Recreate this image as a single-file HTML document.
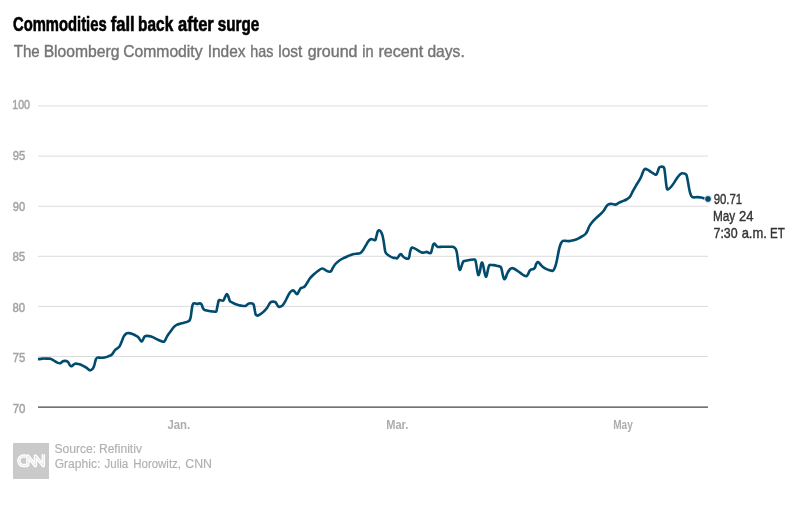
<!DOCTYPE html>
<html lang="en">
<head>
<meta charset="utf-8">
<title>Commodities fall back after surge</title>
<style>
html,body{margin:0;padding:0;background:#fff;}
body{width:808px;height:524px;overflow:hidden;font-family:"Liberation Sans",sans-serif;}
svg{display:block;will-change:transform;}
svg text{font-family:"Liberation Sans",sans-serif;}
</style>
</head>
<body>
<svg width="808" height="524" viewBox="0 0 808 524">
<rect width="808" height="524" fill="#ffffff"/>
<g>
<text y="30.7" font-size="19.5" fill="#000000" font-weight="bold" stroke="#000000" stroke-width="0.6"><tspan x="13.05" textLength="93.57" lengthAdjust="spacingAndGlyphs">Commodities</tspan> <tspan x="110.70" textLength="23.90" lengthAdjust="spacingAndGlyphs">fall</tspan> <tspan x="138.12" textLength="35.09" lengthAdjust="spacingAndGlyphs">back</tspan> <tspan x="177.97" textLength="35.79" lengthAdjust="spacingAndGlyphs">after</tspan> <tspan x="217.66" textLength="41.56" lengthAdjust="spacingAndGlyphs">surge</tspan></text>
<text y="56.65" font-size="16.1" fill="#757575" stroke="#757575" stroke-width="0.4"><tspan x="13.73" textLength="25.99" lengthAdjust="spacingAndGlyphs">The</tspan> <tspan x="43.64" textLength="75.84" lengthAdjust="spacingAndGlyphs">Bloomberg</tspan> <tspan x="123.28" textLength="79.25" lengthAdjust="spacingAndGlyphs">Commodity</tspan> <tspan x="207.69" textLength="37.94" lengthAdjust="spacingAndGlyphs">Index</tspan> <tspan x="250.29" textLength="23.10" lengthAdjust="spacingAndGlyphs">has</tspan> <tspan x="278.22" textLength="23.97" lengthAdjust="spacingAndGlyphs">lost</tspan> <tspan x="307.68" textLength="49.73" lengthAdjust="spacingAndGlyphs">ground</tspan> <tspan x="362.17" textLength="11.28" lengthAdjust="spacingAndGlyphs">in</tspan> <tspan x="378.40" textLength="44.74" lengthAdjust="spacingAndGlyphs">recent</tspan> <tspan x="427.45" textLength="37.32" lengthAdjust="spacingAndGlyphs">days.</tspan></text>
</g>
<g stroke="#dcdcdc" stroke-width="1" fill="none">
<line x1="38" y1="105.95" x2="708" y2="105.95"/>
<line x1="38" y1="156.1" x2="708" y2="156.1"/>
<line x1="38" y1="206.3" x2="708" y2="206.3"/>
<line x1="38" y1="256.3" x2="708" y2="256.3"/>
<line x1="38" y1="306.4" x2="708" y2="306.4"/>
<line x1="38" y1="356.5" x2="708" y2="356.5"/>
</g>
<line x1="38" y1="407.1" x2="708" y2="407.1" stroke="#444444" stroke-width="1.3"/>
<g>
<text y="109.0" font-size="12.2" fill="#a3a3a3" stroke="#a3a3a3" stroke-width="0.45"><tspan x="12.19" textLength="17.83" lengthAdjust="spacingAndGlyphs">100</tspan></text>
<text y="159.8" font-size="12.2" fill="#a3a3a3" stroke="#a3a3a3" stroke-width="0.45"><tspan x="12.71" textLength="12.54" lengthAdjust="spacingAndGlyphs">95</tspan></text>
<text y="210.9" font-size="12.2" fill="#a3a3a3" stroke="#a3a3a3" stroke-width="0.45"><tspan x="12.71" textLength="12.40" lengthAdjust="spacingAndGlyphs">90</tspan></text>
<text y="260.8" font-size="12.2" fill="#a3a3a3" stroke="#a3a3a3" stroke-width="0.45"><tspan x="12.44" textLength="12.86" lengthAdjust="spacingAndGlyphs">85</tspan></text>
<text y="311.7" font-size="12.2" fill="#a3a3a3" stroke="#a3a3a3" stroke-width="0.45"><tspan x="12.46" textLength="12.69" lengthAdjust="spacingAndGlyphs">80</tspan></text>
<text y="362.0" font-size="12.2" fill="#a3a3a3" stroke="#a3a3a3" stroke-width="0.45"><tspan x="12.69" textLength="12.53" lengthAdjust="spacingAndGlyphs">75</tspan></text>
<text y="412.9" font-size="12.2" fill="#a3a3a3" stroke="#a3a3a3" stroke-width="0.45"><tspan x="12.68" textLength="12.81" lengthAdjust="spacingAndGlyphs">70</tspan></text>
</g><g>
<text y="428.7" font-size="12.2" fill="#adadad" font-weight="bold"><tspan x="167.48" textLength="22.73" lengthAdjust="spacingAndGlyphs">Jan.</tspan></text>
<text y="428.7" font-size="12.2" fill="#adadad" font-weight="bold"><tspan x="386.29" textLength="21.95" lengthAdjust="spacingAndGlyphs">Mar.</tspan></text>
<text y="428.7" font-size="12.2" fill="#adadad" font-weight="bold"><tspan x="613.23" textLength="19.63" lengthAdjust="spacingAndGlyphs">May</tspan></text>
</g>
<path d="M38.0 359.3C38.7 359.2 40.8 358.7 42.4 358.6C44.0 358.5 46.0 358.6 47.4 358.6C48.8 358.6 49.5 358.5 50.5 358.8C51.5 359.1 52.5 359.8 53.6 360.4C54.7 361.0 56.2 362.1 57.3 362.6C58.4 363.1 59.3 363.4 60.2 363.2C61.1 363.0 62.0 361.7 62.9 361.3C63.8 360.9 64.6 360.8 65.4 360.9C66.2 361.0 67.2 361.2 67.9 361.9C68.6 362.6 69.2 364.2 69.7 364.9C70.2 365.6 70.7 366.2 71.2 366.3C71.7 366.4 72.2 365.7 72.8 365.3C73.4 364.9 74.1 363.9 75.0 363.7C75.9 363.5 77.2 363.7 78.4 364.0C79.6 364.3 80.8 364.7 82.1 365.3C83.3 365.9 84.8 366.6 85.9 367.4C87.1 368.2 88.2 369.4 89.0 369.9C89.8 370.4 90.0 370.4 90.6 370.2C91.2 370.0 92.1 369.6 92.7 368.8C93.3 368.0 93.8 366.9 94.3 365.3C94.8 363.8 95.3 360.8 95.8 359.5C96.3 358.2 96.5 357.9 97.3 357.6C98.1 357.3 99.6 357.8 100.8 357.8C102.0 357.8 103.3 357.7 104.5 357.5C105.7 357.3 107.0 356.9 108.2 356.4C109.4 355.9 110.8 355.6 111.9 354.5C113.0 353.4 114.1 351.1 115.0 350.1C115.9 349.1 116.7 349.0 117.5 348.3C118.3 347.6 119.0 347.3 119.7 346.1C120.4 344.9 121.2 342.7 121.9 341.1C122.6 339.5 123.0 337.8 123.7 336.5C124.4 335.2 125.4 334.2 126.2 333.6C127.0 333.0 127.7 333.0 128.7 333.1C129.7 333.2 131.2 333.5 132.4 334.0C133.7 334.5 135.2 335.3 136.2 335.9C137.2 336.5 137.9 336.9 138.6 337.7C139.3 338.5 140.0 339.9 140.5 340.5C141.0 341.1 141.3 341.6 141.7 341.5C142.1 341.4 142.5 340.4 143.0 339.6C143.5 338.8 143.9 337.1 144.6 336.5C145.3 335.9 146.2 335.9 147.3 335.9C148.4 335.9 149.8 336.1 151.1 336.5C152.3 336.9 153.6 337.5 154.8 338.1C156.0 338.7 157.3 339.4 158.5 340.0C159.7 340.6 161.3 341.2 162.2 341.5C163.1 341.8 163.6 341.9 164.1 341.7C164.6 341.4 164.8 340.9 165.3 340.0C165.8 339.1 166.3 337.6 167.2 336.1C168.1 334.6 169.8 332.4 170.9 330.9C172.0 329.4 173.0 327.9 174.0 326.9C175.0 325.9 176.0 325.3 177.1 324.7C178.2 324.1 179.6 323.9 180.8 323.5C182.1 323.1 183.4 322.9 184.6 322.6C185.8 322.3 186.8 322.0 187.7 321.6C188.6 321.2 189.3 320.8 189.8 320.0C190.3 319.2 190.5 318.3 190.8 316.6C191.1 314.9 191.4 311.8 191.7 309.8C192.0 307.9 192.2 306.0 192.6 304.9C193.0 303.8 193.2 303.4 193.9 303.2C194.6 303.0 196.0 303.9 197.0 303.9C198.0 303.9 199.3 303.3 200.1 303.4C200.9 303.5 201.2 303.8 201.7 304.6C202.2 305.4 202.4 307.1 202.9 308.0C203.4 308.9 203.5 309.3 204.4 309.8C205.3 310.3 206.9 310.5 208.1 310.8C209.3 311.1 210.6 311.2 211.8 311.4C213.1 311.5 214.8 311.8 215.6 311.7C216.4 311.6 216.2 312.0 216.5 311.0C216.8 310.0 217.1 307.6 217.5 305.9C217.9 304.2 218.2 301.7 218.7 300.7C219.1 299.7 219.5 300.1 220.2 300.1C220.9 300.1 222.3 301.0 223.1 300.6C223.8 300.2 224.2 298.9 224.7 297.9C225.2 296.9 225.8 295.4 226.2 294.8C226.6 294.2 226.8 294.0 227.2 294.3C227.6 294.6 227.9 295.5 228.4 296.6C228.9 297.7 229.2 300.0 229.9 301.0C230.6 302.0 231.3 302.0 232.4 302.6C233.5 303.2 235.2 304.0 236.7 304.5C238.1 305.0 239.6 305.4 241.1 305.6C242.6 305.8 244.4 306.1 245.4 305.9C246.4 305.7 246.7 304.9 247.3 304.5C247.9 304.1 248.3 303.7 249.1 303.5C249.9 303.3 251.4 303.3 252.2 303.5C253.0 303.7 253.3 303.7 253.7 304.7C254.1 305.7 254.4 308.0 254.7 309.7C255.0 311.4 255.3 313.6 255.7 314.6C256.1 315.6 256.5 315.6 257.2 315.6C257.9 315.6 258.7 315.2 259.7 314.6C260.7 314.0 262.2 313.0 263.4 311.9C264.6 310.8 266.1 309.2 267.1 307.8C268.1 306.4 268.9 304.5 269.6 303.5C270.3 302.5 270.6 302.1 271.5 301.8C272.4 301.6 274.4 301.7 275.2 302.0C276.0 302.3 275.9 302.8 276.4 303.5C276.9 304.2 277.5 305.6 278.0 306.2C278.5 306.8 278.7 307.0 279.5 306.9C280.3 306.8 281.7 306.2 282.6 305.3C283.5 304.4 284.2 303.2 285.1 301.6C286.0 300.0 287.3 297.0 288.2 295.4C289.1 293.8 289.9 292.5 290.7 291.7C291.5 290.9 292.2 290.4 292.9 290.4C293.6 290.4 294.1 291.1 294.7 291.7C295.3 292.3 295.8 293.4 296.3 293.8C296.8 294.2 297.1 294.2 297.5 293.9C297.9 293.5 298.2 292.6 298.7 291.7C299.2 290.8 300.0 289.0 300.6 288.3C301.2 287.6 301.8 287.9 302.5 287.6C303.2 287.3 303.9 287.2 304.6 286.5C305.3 285.8 305.9 284.8 306.8 283.4C307.7 282.0 308.8 279.9 310.0 278.3C311.2 276.7 312.9 275.3 314.3 274.0C315.7 272.7 317.4 271.4 318.6 270.5C319.8 269.6 320.9 268.9 321.7 268.6C322.5 268.3 322.8 268.4 323.6 268.8C324.4 269.2 325.7 270.4 326.7 270.9C327.7 271.4 329.0 271.7 329.8 271.7C330.6 271.7 330.8 271.5 331.3 270.9C331.8 270.2 332.2 268.9 332.9 267.8C333.6 266.7 334.4 265.2 335.4 264.0C336.4 262.8 337.8 261.7 339.1 260.7C340.5 259.7 342.1 258.9 343.5 258.2C344.9 257.4 346.4 256.8 347.8 256.2C349.2 255.6 350.8 254.8 352.1 254.4C353.5 254.0 354.8 253.8 355.9 253.7C357.0 253.5 358.1 253.7 359.0 253.5C359.9 253.3 360.4 253.1 361.1 252.5C361.8 251.9 362.5 251.0 363.3 249.8C364.1 248.6 365.0 246.8 365.8 245.4C366.6 244.1 367.3 242.7 368.0 241.7C368.7 240.7 369.4 239.9 370.1 239.5C370.8 239.1 371.3 239.1 372.0 239.2C372.7 239.3 373.6 240.0 374.2 240.1C374.8 240.2 375.1 240.5 375.5 239.9C375.9 239.3 375.9 238.0 376.3 236.7C376.7 235.3 377.2 232.9 377.6 231.8C378.0 230.7 378.3 230.4 378.8 230.3C379.3 230.2 380.1 230.5 380.7 231.4C381.3 232.3 382.0 233.7 382.5 235.5C383.0 237.3 383.4 239.8 383.8 242.3C384.2 244.8 384.6 248.5 385.0 250.4C385.4 252.3 385.6 252.6 386.3 253.5C387.0 254.4 388.3 255.3 389.4 256.0C390.5 256.7 392.2 257.5 393.1 257.8C394.0 258.1 394.4 257.8 395.0 257.9C395.6 258.0 396.3 258.7 396.9 258.5C397.5 258.3 398.0 257.3 398.5 256.6C399.0 255.9 399.5 254.8 400.0 254.4C400.5 254.0 401.0 254.0 401.5 254.4C402.0 254.8 402.4 256.0 403.1 256.6C403.8 257.2 404.6 258.0 405.5 258.3C406.4 258.6 407.8 259.0 408.4 258.7C409.0 258.4 409.0 257.8 409.3 256.6C409.6 255.4 409.8 253.1 410.1 251.7C410.5 250.3 410.9 248.7 411.4 248.0C411.9 247.3 412.3 247.6 413.0 247.7C413.7 247.8 414.6 248.3 415.5 248.8C416.4 249.3 417.6 250.2 418.6 250.8C419.6 251.4 420.8 252.1 421.7 252.4C422.6 252.7 423.4 252.6 424.2 252.5C425.0 252.4 425.8 251.8 426.6 251.9C427.4 252.0 428.4 252.7 429.1 252.9C429.8 253.1 430.4 253.5 430.9 252.9C431.4 252.3 431.6 250.5 432.0 249.2C432.4 247.9 432.7 245.8 433.1 244.9C433.5 244.0 433.8 243.6 434.3 243.6C434.8 243.6 435.3 244.6 435.9 245.2C436.5 245.8 436.8 246.6 437.8 246.9C438.8 247.2 440.6 246.8 442.1 246.8C443.7 246.8 445.4 246.8 447.1 246.8C448.8 246.8 450.9 246.7 452.1 246.8C453.3 246.9 453.7 246.9 454.3 247.4C454.9 247.9 455.6 248.6 456.0 249.6C456.4 250.6 456.7 251.6 457.0 253.5C457.3 255.4 457.7 258.6 458.0 261.0C458.3 263.4 458.6 266.3 459.0 267.8C459.4 269.3 459.7 270.1 460.1 269.9C460.5 269.7 460.9 267.9 461.4 266.6C461.9 265.3 462.5 262.9 463.0 262.0C463.5 261.1 463.4 261.3 464.5 261.0C465.6 260.7 467.8 260.2 469.4 260.0C471.0 259.8 473.4 259.3 474.4 259.5C475.4 259.7 475.2 259.5 475.6 261.0C476.0 262.5 476.5 266.2 476.9 268.4C477.3 270.6 477.6 272.9 477.9 274.0C478.2 275.1 478.3 275.4 478.7 274.9C479.1 274.4 479.6 272.7 480.0 270.9C480.4 269.1 480.8 265.5 481.2 264.1C481.6 262.7 481.8 262.3 482.2 262.6C482.6 262.9 482.9 264.2 483.3 265.9C483.7 267.6 484.2 271.0 484.6 272.8C485.0 274.6 485.4 276.1 485.8 276.5C486.2 276.9 486.4 276.4 486.8 275.2C487.2 273.9 487.7 270.6 488.1 269.0C488.5 267.4 488.8 266.0 489.3 265.3C489.8 264.6 490.5 265.0 491.2 265.0C491.9 265.0 492.7 265.0 493.7 265.1C494.7 265.2 496.3 265.6 497.4 265.9C498.5 266.2 499.8 266.2 500.5 266.8C501.2 267.4 501.3 268.2 501.7 269.7C502.1 271.2 502.6 274.3 503.0 275.9C503.4 277.4 503.8 278.6 504.2 279.0C504.6 279.4 505.0 279.0 505.5 278.1C506.0 277.2 506.6 274.8 507.3 273.4C508.0 271.9 509.1 270.3 509.8 269.4C510.5 268.5 511.0 268.3 511.7 268.2C512.4 268.1 513.3 268.3 514.2 268.7C515.1 269.1 516.2 269.9 517.3 270.7C518.4 271.5 519.9 272.6 521.0 273.4C522.1 274.2 523.2 275.1 524.1 275.5C525.0 275.9 526.0 276.2 526.6 276.1C527.2 276.0 527.3 275.4 527.8 274.6C528.3 273.8 528.9 272.0 529.4 271.2C529.9 270.4 530.2 270.1 530.9 269.7C531.6 269.3 532.7 269.3 533.4 269.0C534.1 268.7 534.4 268.6 534.9 267.8C535.4 267.0 535.6 265.1 536.1 264.1C536.6 263.1 537.2 262.2 537.7 262.0C538.2 261.8 538.4 262.0 539.0 262.6C539.6 263.2 540.6 264.8 541.5 265.7C542.4 266.6 543.5 267.5 544.6 268.2C545.7 268.9 547.0 269.4 548.3 269.9C549.6 270.3 551.6 271.0 552.6 270.9C553.6 270.8 553.6 270.1 554.2 269.0C554.8 267.9 555.4 266.2 556.0 264.1C556.6 262.0 557.1 259.2 557.6 256.6C558.1 254.0 558.7 250.8 559.2 248.6C559.8 246.4 560.3 244.7 560.9 243.4C561.5 242.1 562.1 241.3 562.9 240.9C563.7 240.5 564.5 240.9 565.6 240.9C566.7 240.9 568.0 241.2 569.4 241.1C570.8 241.0 572.2 240.6 573.7 240.2C575.2 239.8 576.7 239.3 578.1 238.6C579.5 237.9 581.2 237.0 582.4 236.2C583.6 235.4 584.7 234.9 585.5 234.0C586.3 233.1 586.8 232.2 587.4 230.9C588.0 229.7 588.5 227.8 589.2 226.5C589.9 225.2 590.7 224.1 591.7 222.8C592.7 221.5 594.0 220.0 595.4 218.7C596.8 217.3 598.4 216.0 599.8 214.7C601.1 213.4 602.5 212.3 603.5 211.0C604.5 209.7 605.3 208.0 606.0 207.0C606.7 206.0 607.1 205.3 607.8 204.8C608.5 204.3 609.4 204.0 610.3 203.9C611.2 203.8 612.5 204.1 613.4 204.2C614.3 204.3 615.0 204.8 615.9 204.6C616.8 204.3 617.9 203.3 619.0 202.7C620.1 202.1 621.5 201.6 622.7 201.1C624.0 200.6 625.4 200.1 626.5 199.5C627.6 198.9 628.6 198.2 629.3 197.6C630.0 197.0 629.9 197.0 630.5 195.9C631.1 194.8 632.1 192.7 633.0 190.9C633.9 189.2 635.1 187.2 636.1 185.4C637.1 183.7 638.3 182.1 639.2 180.4C640.1 178.7 641.0 177.1 641.7 175.4C642.4 173.8 643.0 171.6 643.6 170.5C644.2 169.4 644.5 169.0 645.2 168.9C645.9 168.8 646.9 169.4 647.9 169.9C648.9 170.4 650.0 171.3 651.0 172.0C652.0 172.7 653.2 173.5 654.1 173.9C655.0 174.3 655.6 174.9 656.2 174.6C656.8 174.3 657.1 173.3 657.5 172.3C657.9 171.3 658.3 169.5 658.7 168.6C659.1 167.7 659.2 167.3 660.0 167.0C660.8 166.7 662.7 166.6 663.4 167.0C664.1 167.4 664.1 167.7 664.4 169.2C664.7 170.7 665.0 173.6 665.3 176.1C665.6 178.6 665.9 181.9 666.2 184.1C666.5 186.3 666.7 188.3 667.1 189.1C667.5 189.9 667.8 189.4 668.4 189.1C669.0 188.8 670.0 188.0 670.9 187.0C671.8 186.0 673.0 184.4 674.0 182.9C675.0 181.4 676.2 179.2 677.1 177.9C678.0 176.6 678.8 175.6 679.6 174.8C680.4 174.0 681.2 173.5 682.0 173.3C682.8 173.1 683.8 173.3 684.5 173.6C685.2 173.8 685.9 173.8 686.4 174.8C686.9 175.8 687.2 177.7 687.6 179.8C688.0 181.9 688.5 185.0 688.9 187.2C689.3 189.4 689.6 191.2 690.1 192.8C690.6 194.4 691.1 195.7 691.7 196.5C692.3 197.3 692.8 197.3 693.8 197.4C694.8 197.5 696.2 197.1 697.5 197.1C698.8 197.1 700.1 197.3 701.3 197.5C702.4 197.7 703.3 198.2 704.4 198.4C705.5 198.7 707.4 198.9 708.0 199.0" fill="none" stroke="#004b6e" stroke-width="2.6" stroke-linejoin="round" stroke-linecap="butt"/>
<circle cx="708" cy="199" r="3.4" fill="#004b6e" stroke="#ffffff" stroke-width="0.8"/>
<g>
<text y="204.1" font-size="14.8" fill="#333333" stroke="#333333" stroke-width="0.4"><tspan x="713.67" textLength="28.52" lengthAdjust="spacingAndGlyphs">90.71</tspan></text>
<text y="221.4" font-size="14.8" fill="#333333" stroke="#333333" stroke-width="0.4"><tspan x="712.93" textLength="22.29" lengthAdjust="spacingAndGlyphs">May</tspan> <tspan x="739.11" textLength="14.46" lengthAdjust="spacingAndGlyphs">24</tspan></text>
<text y="237.7" font-size="14.8" fill="#333333" stroke="#333333" stroke-width="0.4"><tspan x="713.51" textLength="24.08" lengthAdjust="spacingAndGlyphs">7:30</tspan> <tspan x="741.65" textLength="25.24" lengthAdjust="spacingAndGlyphs">a.m.</tspan> <tspan x="769.97" textLength="14.83" lengthAdjust="spacingAndGlyphs">ET</tspan></text>
</g>
<g>
<rect x="13" y="443" width="36" height="36" fill="#cacaca"/>
<path d="M26.3 456.1H23.6A4.8 4.75 0 0 0 23.6 465.6H25.6Q27.9 465.6 27.9 463.4V456.1L35.4 465.6V456.1L43.3 465.6V454.35" fill="none" stroke="#ffffff" stroke-width="3.5" stroke-linejoin="round" stroke-linecap="butt"/>
<path d="M26.3 456.1H23.6A4.8 4.75 0 0 0 23.6 465.6H25.6Q27.9 465.6 27.9 463.4V456.1L35.4 465.6V456.1L43.3 465.6V454.35" fill="none" stroke="#cacaca" stroke-width="0.5" stroke-linejoin="round" stroke-linecap="butt"/>
</g>
<g>
<text y="452.7" font-size="12" fill="#b0b0b0" stroke="#b0b0b0" stroke-width="0.15"><tspan x="54.46" textLength="41.64" lengthAdjust="spacingAndGlyphs">Source:</tspan> <tspan x="98.91" textLength="43.03" lengthAdjust="spacingAndGlyphs">Refinitiv</tspan></text>
<text y="467.5" font-size="12" fill="#b0b0b0" stroke="#b0b0b0" stroke-width="0.15"><tspan x="54.69" textLength="45.59" lengthAdjust="spacingAndGlyphs">Graphic:</tspan> <tspan x="104.52" textLength="23.78" lengthAdjust="spacingAndGlyphs">Julia</tspan> <tspan x="133.26" textLength="47.77" lengthAdjust="spacingAndGlyphs">Horowitz,</tspan> <tspan x="185.24" textLength="26.73" lengthAdjust="spacingAndGlyphs">CNN</tspan></text>
</g>
</svg>
</body>
</html>
